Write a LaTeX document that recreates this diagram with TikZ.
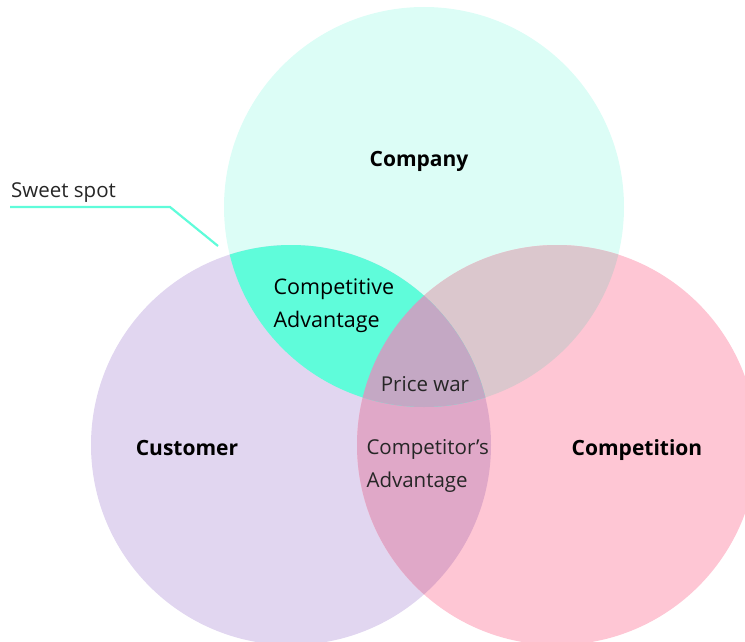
\documentclass[tikz,border=0pt]{standalone}
\usepackage{fontspec}
\setmainfont{Open Sans}
\begin{document}
\begin{tikzpicture}[x=1pt,y=-1pt,
  title/.style={font=\fontsize{21}{24}\selectfont\bfseries, text=black},
  label/.style={font=\fontsize{20.5}{33}\selectfont, text=black!85, align=left},
  hilabel/.style={font=\fontsize{21.5}{33}\selectfont, text=black, align=left}]
\definecolor{cCompany}{HTML}{DCFDF6}
\definecolor{cCustomer}{HTML}{E1D6F0}
\definecolor{cCompetition}{HTML}{FEC6D4}
\definecolor{cSweet}{HTML}{5FFCDA}
\definecolor{cCoCp}{HTML}{DBC7CD}
\definecolor{cCuCp}{HTML}{E0A8C8}
\definecolor{cAll}{HTML}{C4A8C4}
\useasboundingbox (0,0) rectangle (745,642);
\begin{scope}
\clip (0,0) rectangle (745,642);
% base circles
\fill[cCompany] (424,207) circle (200);
\fill[cCustomer] (291,445) circle (200);
\fill[cCompetition] (557,445) circle (200);
% Company and Competition overlap
\begin{scope}
  \clip (424,207) circle (200);
  \fill[cCoCp] (557,445) circle (200);
\end{scope}
% Customer and Competition overlap
\begin{scope}
  \clip (291,445) circle (200);
  \fill[cCuCp] (557,445) circle (200);
\end{scope}
% Company and Customer overlap: the sweet spot
\begin{scope}
  \clip (424,207) circle (200);
  \fill[cSweet] (291,445) circle (200);
\end{scope}
% all three circles
\begin{scope}
  \clip (424,207) circle (200);
  \clip (291,445) circle (200);
  \fill[cAll] (557,445) circle (200);
\end{scope}
\end{scope}
% labels
\node[title] (company) at (419,161) {Company};
\node[title] (customer) at (187,448) {Customer};
\node[title] (competition) at (637,450) {Competition};
\node[hilabel, anchor=west] (advantage) at (270,306) {Competitive\\Advantage};
\node[label] (pricewar) at (425,384) {Price war};
\node[label, anchor=west] (rivaladv) at (363,466) {Competitor’s\\Advantage};
\node[label, anchor=base west, inner sep=0pt] (sweet) at (11,197) {Sweet spot};
% callout line to the sweet spot
\coordinate (lineStart) at (10,207);
\coordinate (tip) at (218,246);
\draw[cSweet, line width=2.2] (lineStart) -- (170,207) -- (tip);
\end{tikzpicture}
\end{document}
